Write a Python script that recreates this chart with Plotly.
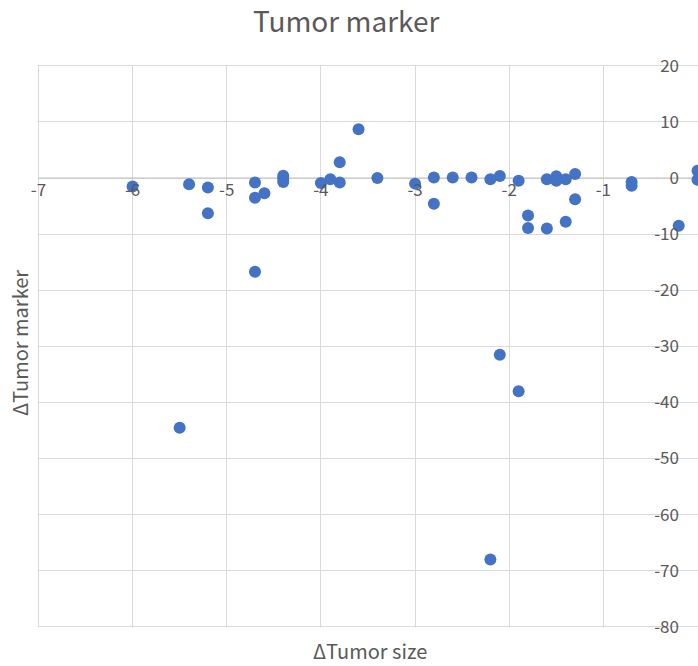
import plotly.graph_objects as go

tumor_size = [-6.0, -5.4, -5.5, -5.2, -5.2, -4.7, -4.7, -4.7, -4.6, -4.4, -4.4, -4.4,
              -4.0, -3.9, -3.8, -3.8, -3.6, -3.4, -3.0, -2.8, -2.8, -2.6, -2.4, -2.2,
              -2.2, -2.1, -2.1, -1.9, -1.9, -1.8, -1.8, -1.6, -1.6, -1.5, -1.5, -1.4,
              -1.4, -1.3, -1.3, -0.7, -0.7, -0.2, 0.0, 0.0]
tumor_marker = [-1.5, -1.1, -44.5, -1.7, -6.3, -0.8, -3.5, -16.7, -2.7, 0.4, -0.1, -0.7,
                -0.9, -0.2, -0.8, 2.8, 8.7, 0.0, -1.0, 0.1, -4.6, 0.1, 0.1, -0.2,
                -68.0, 0.35, -31.5, -0.5, -38.0, -6.7, -8.9, -0.2, -9.0, 0.3, -0.5, -0.2,
                -7.8, 0.7, -3.8, -0.7, -1.4, -8.5, 1.3, -0.3]

x_ticks = [-7, -6, -5, -4, -3, -2, -1, 0]
y_ticks = [20, 10, 0, -10, -20, -30, -40, -50, -60, -70, -80]

FONT = "Noto Sans CJK KR"
GRAY = "#595959"

# axis ranges padded a little so the edge tick labels are kept by plotly;
# the padding strips are masked below so the grid stops at the tick limits
Y_RANGE = [-82, 23]
X_RANGE = [-7.1, 0.005]
zero_frac = (0 - Y_RANGE[0]) / (Y_RANGE[1] - Y_RANGE[0])
x_lo, x_hi = min(x_ticks), max(x_ticks)
y_lo, y_hi = min(y_ticks), max(y_ticks)

fig = go.Figure()
fig.add_trace(go.Scatter(
    x=tumor_size, y=tumor_marker, mode="markers",
    marker=dict(size=12, color="#4472C4"),
    hoverinfo="x+y", showlegend=False, cliponaxis=False,
))

mask = dict(type="rect", xref="x", yref="y", fillcolor="white",
            line=dict(width=0), layer="between")
shapes = [
    dict(mask, x0=X_RANGE[0], x1=X_RANGE[1], y0=y_hi + 0.15, y1=Y_RANGE[1]),
    dict(mask, x0=X_RANGE[0], x1=X_RANGE[1], y0=Y_RANGE[0], y1=y_lo - 0.15),
    dict(mask, x0=X_RANGE[0], x1=x_lo - 0.01, y0=Y_RANGE[0], y1=Y_RANGE[1]),
    dict(type="line", xref="x", yref="y", x0=x_lo, x1=X_RANGE[1], y0=0, y1=0,
         line=dict(color="#bfbfbf", width=1), layer="between"),
]

fig.update_layout(
    width=698, height=666,
    margin=dict(l=29, r=0, t=49, b=28),
    paper_bgcolor="white", plot_bgcolor="white",
    font=dict(family=FONT, color=GRAY),
    title=dict(text="Tumor marker", x=0.496, xanchor="center", y=0.967, yanchor="middle",
               font=dict(size=28, color=GRAY, family=FONT)),
    xaxis=dict(
        range=X_RANGE, tickvals=x_ticks, ticktext=[str(v) for v in x_ticks],
        showgrid=True, gridcolor="#d9d9d9", gridwidth=1,
        zeroline=False, showline=False,
        anchor="free", position=zero_frac, side="bottom", ticks="",
        tickfont=dict(size=17, color=GRAY, family=FONT),
    ),
    yaxis=dict(
        range=Y_RANGE, tickvals=y_ticks, ticktext=[str(v) for v in y_ticks],
        showgrid=True, gridcolor="#d9d9d9", gridwidth=1,
        zeroline=False, showline=False, side="right", ticklabelposition="inside",
        ticklabelstandoff=16,
        ticks="", tickfont=dict(size=17, color=GRAY, family=FONT),
    ),
    shapes=shapes,
    annotations=[
        dict(text="ΔTumor size", xref="paper", yref="paper", x=0.51, y=-0.0204,
             xanchor="center", yanchor="middle", showarrow=False,
             font=dict(size=20, color=GRAY, family=FONT)),
        dict(text="ΔTumor marker", xref="paper", yref="paper", x=-0.015, y=0.5008,
             xanchor="center", yanchor="middle", showarrow=False, textangle=-90,
             font=dict(size=20, color=GRAY, family=FONT)),
    ],
)

fig.write_html("out.html",
               config={"displayModeBar": False},
               post_script="document.body.style.margin='0';document.body.style.overflow='hidden';")
